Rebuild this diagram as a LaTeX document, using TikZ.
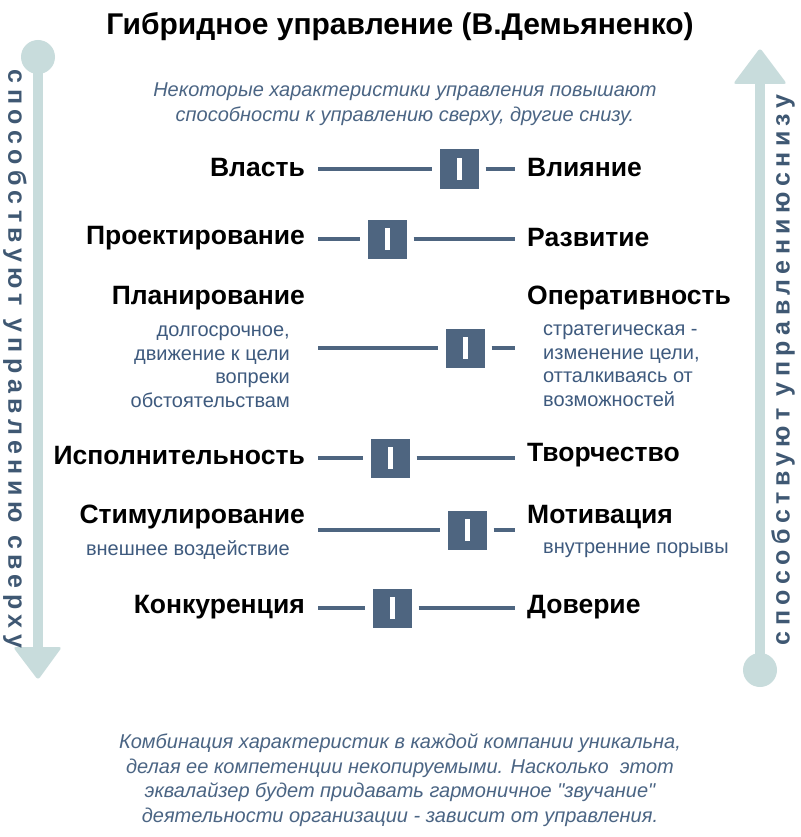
\documentclass[tikz,border=0pt]{standalone}
\usepackage{fontspec}
\setmainfont{Liberation Sans}
\newfontfamily\sidefont[LetterSpace=22]{Liberation Sans}
\usetikzlibrary{positioning}
\definecolor{EqBar}{HTML}{C8DCDC}
\definecolor{EqKnob}{HTML}{4E6580}
\definecolor{EqSide}{HTML}{3F5873}
\definecolor{EqNote}{HTML}{4B6584}
\definecolor{EqSub}{HTML}{3E5A7E}
\tikzset{
  eqtitle/.style={font=\fontsize{30}{36}\selectfont\bfseries,text=black},
  eqnote/.style={font=\fontsize{20}{24.5}\selectfont\itshape,text=EqNote,align=center},
  eqleft/.style={font=\fontsize{26.5}{30}\selectfont\bfseries,anchor=east,inner sep=0pt},
  eqright/.style={font=\fontsize{26.5}{30}\selectfont\bfseries,anchor=west,inner sep=0pt},
  eqsub/.style={font=\fontsize{20}{23.5}\selectfont,text=EqSub,inner sep=0pt},
  eqside/.style={font=\fontsize{25}{30}\selectfont\sidefont\bfseries,text=EqSide,inner sep=0pt},
  eqtrack/.style={draw=EqKnob,line width=4pt},
  eqknob/.style={
    fill=EqKnob,
    minimum size=39pt,
    inner sep=0pt,
    path picture={\fill[white] ([xshift=-2.5pt,yshift=-11pt]path picture bounding box.center) rectangle ++(5pt,22pt);}
  }
}
\begin{document}
\begin{tikzpicture}[x=1pt,y=-1pt]
  \useasboundingbox[fill=white] (0,0) rectangle (800,837);
  % side bars
  \fill[EqBar] (38,57) circle (17);
  \fill[EqBar] (33,57) rectangle (43,648);
  \fill[EqBar,rounded corners=3pt] (13,647) -- (62,647) -- (38,680) -- cycle;
  \fill[EqBar] (760,670) circle (17);
  \fill[EqBar] (755,82) rectangle (765,670);
  \fill[EqBar,rounded corners=3pt] (733,84) -- (787,84) -- (760,48) -- cycle;
  \node[eqside,rotate=-90] (sidedown) at (15,359) {способствуют управлению сверху};
  \node[eqside,rotate=90] (sideup) at (783,370) {способствуют управлениюснизу};

  \node[eqtitle] (title) at (400,27) {Гибридное управление (В.Демьяненко)};
  \node[eqnote] (intro) at (405,104) {Некоторые характеристики управления повышают\\способности к управлению сверху, другие снизу.};

  % sliders
  \foreach \n/\kx/\ky in {1/459/169, 2/387/239, 3/465/348, 4/390/458, 5/467/530, 6/392/608}{
    \node[eqknob] (knob\n) at (\kx,\ky) {};
    \coordinate (tl\n) at (318,\ky);
    \coordinate (tr\n) at (515,\ky);
    \draw[eqtrack,shorten >=7pt] (tl\n) -- (knob\n.west);
    \draw[eqtrack,shorten <=7pt] (knob\n.east) -- (tr\n);
  }

  \node[eqleft] (power) at (305,168) {Власть};
  \node[eqright] (influence) at (527,168) {Влияние};
  \node[eqleft] (design) at (305,238) {Проектирование};
  \node[eqright] (growth) at (527,238) {Развитие};
  \node[eqleft] (planning) at (305,298) {Планирование};
  \node[eqsub,anchor=north east,align=right] (planningsub) at (290,326) {долгосрочное,\\движение к цели\\вопреки\\обстоятельствам};
  \node[eqright] (agility) at (527,298) {Оперативность};
  \node[eqsub,anchor=north west,align=left] (agilitysub) at (543,325) {стратегическая -\\изменение цели,\\отталкиваясь от\\возможностей};
  \node[eqleft] (execution) at (305,456) {Исполнительность};
  \node[eqright] (creativity) at (527,455) {Творчество};
  \node[eqleft] (stimulus) at (305,517) {Стимулирование};
  \node[eqsub,anchor=east] (stimulussub) at (290,550) {внешнее воздействие};
  \node[eqright] (motivation) at (527,517) {Мотивация};
  \node[eqsub,anchor=west] (motivationsub) at (543,550) {внутренние порывы};
  \node[eqleft] (competition) at (305,607) {Конкуренция};
  \node[eqright] (trust) at (527,607) {Доверие};

  \node[eqnote] (outro) at (400,780) {Комбинация характеристик в каждой компании уникальна,\\делая ее компетенции некопируемыми. Насколько\ \ этот\\эквалайзер будет придавать гармоничное \textquotedbl звучание\textquotedbl\\деятельности организации - зависит от управления.};
\end{tikzpicture}
\end{document}
